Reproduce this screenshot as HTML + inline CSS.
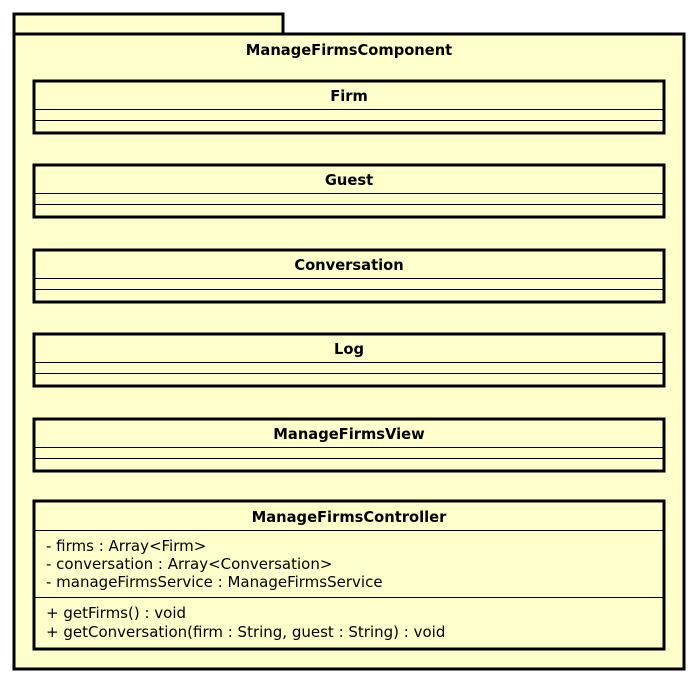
<!DOCTYPE html>
<html><head><style>body{margin:0;background:#fff}svg{display:block}text{font-family:"DejaVu Sans","Liberation Sans",sans-serif;fill:#000}</style></head><body>
<svg width="697" height="682" xmlns="http://www.w3.org/2000/svg">
<g stroke="#000" fill="#FFFFCC">
<rect x="14" y="14" width="269" height="21" stroke-width="3"/>
<rect x="14" y="34" width="670" height="635" stroke-width="3"/>
</g>
<text x="349" y="55" font-size="14.7" font-weight="bold" text-anchor="middle">ManageFirmsComponent</text>
<g fill="#FFFFCC" stroke="#000">
<rect x="34" y="81" width="630" height="52" stroke-width="3"/>
<rect x="34" y="165" width="630" height="52" stroke-width="3"/>
<rect x="34" y="250" width="630" height="52" stroke-width="3"/>
<rect x="34" y="334" width="630" height="52" stroke-width="3"/>
<rect x="34" y="419" width="630" height="52" stroke-width="3"/>
<rect x="34" y="501" width="630" height="148" stroke-width="3"/>
</g>
<g stroke="#000" stroke-width="1">
<line x1="34" y1="109.5" x2="664" y2="109.5"/><line x1="34" y1="120.5" x2="664" y2="120.5"/>
<line x1="34" y1="193.5" x2="664" y2="193.5"/><line x1="34" y1="204.5" x2="664" y2="204.5"/>
<line x1="34" y1="278.5" x2="664" y2="278.5"/><line x1="34" y1="289.5" x2="664" y2="289.5"/>
<line x1="34" y1="362.5" x2="664" y2="362.5"/><line x1="34" y1="373.5" x2="664" y2="373.5"/>
<line x1="34" y1="447.5" x2="664" y2="447.5"/><line x1="34" y1="458.5" x2="664" y2="458.5"/>
<line x1="34" y1="530.5" x2="664" y2="530.5"/><line x1="34" y1="597.5" x2="664" y2="597.5"/>
</g>
<g font-size="14.7" font-weight="bold" text-anchor="middle">
<text x="349" y="101">Firm</text>
<text x="349" y="185">Guest</text>
<text x="349" y="270">Conversation</text>
<text x="349" y="354">Log</text>
<text x="349" y="439">ManageFirmsView</text>
<text x="349" y="522">ManageFirmsController</text>
</g>
<g font-size="15">
<text x="46" y="551">- firms : Array&lt;Firm&gt;</text>
<text x="46" y="569">- conversation : Array&lt;Conversation&gt;</text>
<text x="46" y="587">- manageFirmsService : ManageFirmsService</text>
<text x="46" y="618">+ getFirms() : void</text>
<text x="46" y="637">+ getConversation(firm : String, guest : String) : void</text>
</g>
</svg>
</body></html>
